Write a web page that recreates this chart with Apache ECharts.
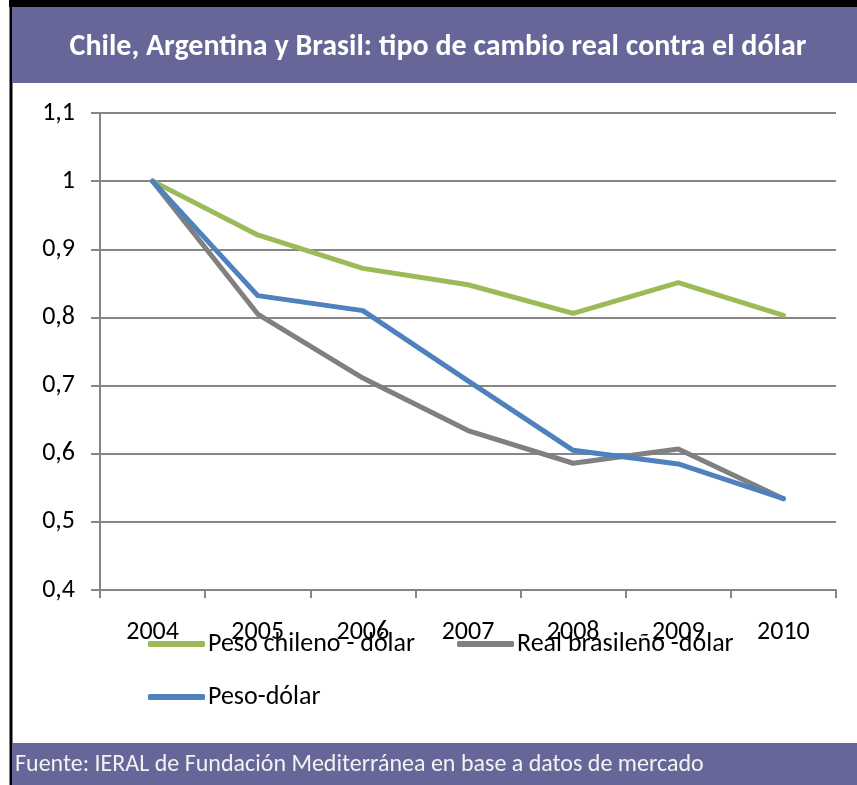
<!DOCTYPE html>
<html>
<head>
<meta charset="utf-8">
<script src="https://cdn.jsdelivr.net/npm/echarts@6/dist/echarts.min.js"></script>
<style>
html,body{margin:0;padding:0;background:#fff;}
#chart{width:857px;height:785px;}
</style>
</head>
<body>
<div id="chart"></div>
<script>
var titleText = 'Chile, Argentina y Brasil: tipo de cambio real contra el dólar';
var sourceText = 'Fuente: IERAL de Fundación Mediterránea en base a datos de mercado';
var years = ['2004', '2005', '2006', '2007', '2008', '2009', '2010'];
var seriesNames = ['Peso chileno - dólar', 'Real brasileño -dólar', 'Peso-dólar'];
var chileValues = [1.0, 0.921, 0.872, 0.848, 0.806, 0.851, 0.803];
var brasilValues = [1.0, 0.805, 0.711, 0.634, 0.586, 0.607, 0.534];
var argentinaValues = [1.0, 0.832, 0.810, 0.707, 0.605, 0.585, 0.534];

var FONT = "Carlito, 'Open Sans', sans-serif";
var PURPLE = '#666699';
var colors = ['#9bbb59', '#808080', '#4f81bd'];

var chart = echarts.init(document.getElementById('chart'));
function legendFor(i, left, top) {
  return {
    data: [seriesNames[i]],
    left: left, top: top,
    icon: 'roundRect',
    itemWidth: 57, itemHeight: 6,
    itemGap: 0,
    textStyle: {fontFamily: FONT, fontSize: 26, color: '#000', padding: [0,0,0,-2]},
    selectedMode: false
  };
}
chart.setOption({
  animation: false,
  backgroundColor: '#fff',
  graphic: [
    {type: 'rect', shape: {x: 9, y: 0, width: 848, height: 7}, style: {fill: '#000'}, z: 10},
    {type: 'rect', shape: {x: 9.5, y: 0, width: 3, height: 785}, style: {fill: '#000'}, z: 10},
    {type: 'rect', shape: {x: 12, y: 7, width: 845, height: 76}, style: {fill: PURPLE}, z: 10},
    {type: 'text', x: 438, y: 47, style: {text: titleText, fill: '#fff', font: 'bold 30px ' + FONT, textAlign: 'center', textVerticalAlign: 'middle'}, z: 11},
    {type: 'rect', shape: {x: 12, y: 743, width: 845, height: 42}, style: {fill: PURPLE}, z: 10},
    {type: 'text', x: 15, y: 765, style: {text: sourceText, fill: '#f2f2f2', font: '24px ' + FONT, textAlign: 'left', textVerticalAlign: 'middle'}, z: 11}
  ],
  legend: [legendFor(0, 143, 626), legendFor(1, 452, 626), legendFor(2, 143, 679)],
  grid: {left: 100, right: 21, top: 113, bottom: 195, containLabel: false},
  xAxis: {
    type: 'category',
    data: years,
    boundaryGap: true,
    axisLine: {lineStyle: {color: '#868686', width: 2}},
    axisTick: {show: true, length: 8, lineStyle: {color: '#868686', width: 2}},
    axisLabel: {fontFamily: FONT, fontSize: 26, color: '#000', margin: 29}
  },
  yAxis: {
    type: 'value',
    min: 0.4, max: 1.1, interval: 0.1,
    axisLine: {show: true, lineStyle: {color: '#868686', width: 2}},
    axisTick: {show: true, length: 9, lineStyle: {color: '#868686', width: 2}},
    splitLine: {lineStyle: {color: '#868686', width: 2}},
    axisLabel: {
      fontFamily: FONT, fontSize: 26, color: '#000', margin: 25,
      formatter: function (v) { return (Math.round(v * 10) / 10).toString().replace('.', ','); }
    }
  },
  series: [
    {name: seriesNames[0], type: 'line', data: chileValues, showSymbol: false, symbol: 'none', color: colors[0], lineStyle: {width: 5, color: colors[0], cap: 'round', join: 'round'}},
    {name: seriesNames[1], type: 'line', data: brasilValues, showSymbol: false, symbol: 'none', color: colors[1], lineStyle: {width: 5, color: colors[1], cap: 'round', join: 'round'}},
    {name: seriesNames[2], type: 'line', data: argentinaValues, showSymbol: false, symbol: 'none', color: colors[2], lineStyle: {width: 5, color: colors[2], cap: 'round', join: 'round'}}
  ]
});
</script>
</body>
</html>
